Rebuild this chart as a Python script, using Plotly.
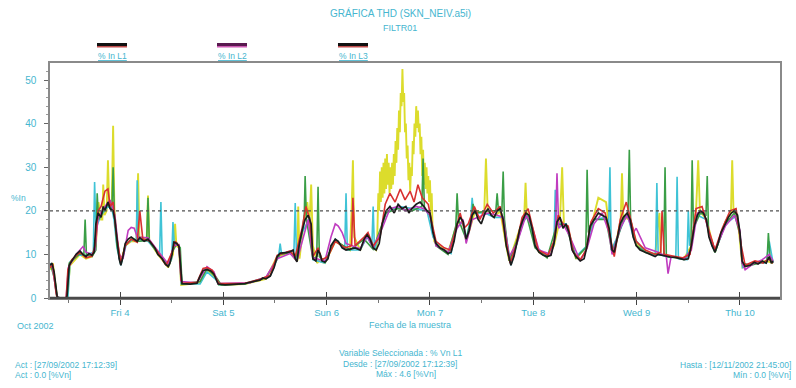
import numpy as np
import pandas as pd
import plotly.graph_objects as go

# Time base: hours counted from 2002-10-03 00:00
T0 = pd.Timestamp("2002-10-03")

# THD readings (%), each series as (hours, value) pairs
l1_black = [(7.7,7.5),(8.2,8.0),(8.7,6.0),(9.1,2.0),(9.4,0.3),(10.1,0),(11.5,0),(11.7,0.5),(12.2,7.5),(12.8,8.5),(13.8,10.0),(14.7,10.8),(15.4,10.0),(16.1,9.5),(16.8,10.2),(17.5,9.8),(18.0,10.5),(18.4,17.0),(18.9,19.5),(19.6,18.5),(20.1,21.0),(20.5,20.0),(21.2,22.0),(21.7,20.5),(22.4,20.0),(22.8,18.0),(23.3,13.0),(23.8,9.0),(24.2,7.5),(24.7,9.5),(25.2,12.5),(25.9,13.5),(26.6,14.0),(27.3,13.5),(28.0,13.0),(28.6,13.8),(29.6,13.0),(30.5,13.5),(31.4,12.5),(32.1,11.5),(32.8,10.0),(33.8,9.0),(34.5,7.8),(35.2,7.2),(35.6,8.0),(36.1,10.0),(36.5,12.8),(37.2,12.5),(37.7,11.8),(38.2,4.0),(38.4,3.3),(40.3,3.2),(41.9,3.4),(42.6,5.0),(43.3,6.3),(44.2,6.5),(45.1,6.2),(45.8,5.5),(46.3,4.5),(46.8,3.2),(48.4,3.0),(50.7,3.1),(53.0,3.3),(54.2,3.6),(55.4,3.8),(56.5,4.1),(57.2,4.6),(57.9,4.4),(58.9,5.0),(59.8,7.0),(60.5,9.5),(61.2,10.3),(62.6,10.4),(63.5,10.6),(64.2,11.0),(64.7,9.0),(65.1,8.3),(65.6,12.0),(66.3,15.5),(67.0,18.0),(67.7,19.0),(68.4,17.0),(68.8,9.0),(69.5,8.5),(70.0,11.0),(70.5,10.0),(70.9,8.5),(71.6,8.2),(72.3,9.0),(73.0,12.0),(74.0,13.5),(74.7,13.0),(75.6,11.5),(76.5,11.0),(77.4,11.2),(78.6,11.5),(79.8,11.0),(80.7,13.5),(81.4,14.5),(82.1,13.5),(82.8,11.5),(83.5,11.0),(84.2,12.5),(84.9,17.0),(85.8,20.0),(86.7,21.0),(87.7,19.5),(88.6,21.5),(89.5,20.5),(90.4,21.0),(91.1,19.5),(91.8,20.5),(92.8,21.5),(93.7,22.0),(94.6,21.0),(95.3,20.0),(96.0,19.5),(96.7,15.0),(97.4,12.5),(98.3,11.5),(99.3,11.0),(100.2,10.2),(100.9,10.5),(101.6,13.0),(102.3,17.0),(103.0,18.5),(103.7,17.5),(104.4,13.5),(105.1,15.5),(105.8,19.0),(106.5,20.0),(107.2,18.0),(107.9,17.0),(108.8,19.5),(109.5,20.5),(110.2,19.0),(110.9,18.5),(111.6,20.0),(112.3,20.5),(113.0,18.0),(113.7,12.0),(114.4,9.0),(114.8,7.5),(115.5,9.5),(116.2,13.0),(116.9,16.0),(117.6,18.0),(118.3,19.5),(119.0,19.0),(119.7,16.0),(120.4,12.0),(121.3,10.5),(122.3,9.8),(123.2,9.5),(124.1,9.8),(124.8,12.5),(125.5,17.5),(126.2,18.5),(126.9,16.0),(127.6,17.0),(128.3,15.0),(129.0,11.0),(129.9,9.5),(130.9,8.5),(131.8,9.0),(132.5,12.0),(133.2,16.5),(134.1,18.0),(135.1,19.5),(136.0,19.0),(136.9,18.5),(137.6,16.0),(138.3,11.0),(138.8,10.5),(139.5,14.0),(140.2,17.0),(140.9,18.5),(141.8,19.5),(142.5,18.0),(143.2,14.0),(143.9,12.0),(144.8,11.0),(146.0,10.5),(147.1,10.0),(148.3,9.5),(149.0,10.0),(149.9,9.8),(150.9,9.5),(151.8,9.4),(153.0,9.3),(154.1,9.0),(155.0,8.8),(156.0,9.0),(156.7,12.0),(157.4,16.5),(158.1,19.0),(158.8,20.0),(159.5,19.5),(160.2,18.0),(160.8,14.0),(161.5,12.0),(162.2,10.5),(162.9,12.5),(163.6,15.0),(164.6,17.0),(165.3,18.5),(166.0,19.5),(166.7,20.0),(167.4,19.0),(168.0,15.0),(168.5,8.5),(169.2,7.2),(170.4,7.5),(171.3,8.2),(172.2,7.8),(173.2,8.5),(174.1,8.0),(174.8,9.5),(175.3,8.0),(175.7,8.5)]

l1_red = [(7.7,7.0),(8.4,7.5),(9.1,1.5),(9.4,0),(11.5,0),(11.9,6.5),(12.8,8.8),(14.7,10.5),(16.1,9.2),(17.5,9.6),(18.2,12.0),(18.9,20.0),(19.6,21.0),(20.5,24.5),(21.2,25.0),(21.7,21.0),(22.4,22.0),(23.1,15.0),(24.2,8.0),(25.2,12.0),(26.6,13.5),(28.0,12.8),(28.6,20.0),(29.3,13.5),(31.0,13.0),(32.8,10.5),(34.7,7.5),(36.1,10.5),(36.8,13.0),(37.7,12.0),(38.2,4.0),(38.6,3.4),(41.9,3.6),(43.3,6.8),(44.2,7.0),(45.4,6.4),(46.3,4.5),(47.0,3.3),(53.0,3.4),(56.5,4.3),(58.9,5.2),(60.5,9.8),(63.5,10.8),(64.7,9.5),(66.3,16.0),(67.2,21.0),(68.1,18.0),(68.8,9.5),(70.0,11.5),(70.9,8.8),(72.3,9.5),(74.0,13.0),(76.3,11.5),(77.8,12.0),(78.1,23.0),(78.6,12.0),(80.7,14.0),(81.6,15.0),(82.8,12.0),(84.4,14.0),(85.6,21.5),(86.7,24.0),(87.9,22.0),(89.1,25.0),(90.2,22.5),(91.4,24.5),(92.3,22.0),(93.2,26.0),(94.2,23.0),(95.6,21.5),(96.5,17.0),(97.4,13.0),(99.3,11.5),(100.7,11.0),(101.8,15.0),(103.0,19.5),(103.9,16.0),(104.9,17.0),(106.3,21.0),(107.6,18.0),(109.3,21.5),(110.7,19.5),(112.3,21.0),(113.2,16.0),(114.6,8.0),(116.0,12.0),(117.4,18.5),(118.8,20.5),(119.7,17.0),(121.1,11.0),(123.4,9.8),(124.8,13.0),(125.8,19.0),(126.9,17.0),(128.1,16.5),(129.3,10.5),(130.9,8.8),(132.3,11.0),(133.4,17.5),(135.1,20.5),(136.7,19.5),(137.8,14.0),(138.8,9.5),(140.2,18.0),(141.6,22.0),(142.5,18.5),(143.9,13.0),(146.0,11.0),(148.3,10.0),(149.6,10.5),(149.9,20.0),(150.4,10.0),(152.3,9.6),(154.6,9.2),(156.4,10.0),(157.8,20.5),(159.2,21.0),(160.6,16.0),(162.2,11.0),(163.9,16.0),(165.7,20.0),(167.1,20.5),(168.3,12.0),(169.2,7.5),(171.5,8.5),(173.4,8.0),(174.6,9.0),(175.7,8.0)]

l2_magenta = [(8.2,7.8),(9.1,2.0),(9.4,0),(11.5,0),(12.0,7.0),(13.8,10.0),(15.4,11.8),(16.1,10.5),(17.5,10.0),(18.2,11.0),(18.9,18.5),(20.5,21.0),(21.7,22.5),(22.8,19.0),(23.8,10.0),(24.7,9.0),(25.9,15.5),(26.6,16.2),(27.3,16.0),(28.0,14.0),(30.5,13.8),(32.8,10.8),(35.2,7.8),(36.5,12.0),(37.7,12.2),(38.2,3.8),(41.9,3.5),(44.2,7.2),(45.8,6.0),(46.8,3.3),(54.2,3.5),(57.9,4.8),(60.5,9.0),(63.5,10.2),(65.1,8.5),(67.7,18.0),(68.8,9.2),(71.6,8.5),(73.0,14.0),(74.0,17.0),(74.7,16.5),(75.6,15.0),(76.5,12.5),(79.8,11.3),(81.4,14.2),(82.8,11.5),(84.9,16.0),(86.7,20.5),(88.6,21.0),(90.4,20.0),(92.8,21.0),(94.6,20.5),(96.0,19.0),(97.4,12.0),(100.2,10.5),(102.3,16.0),(103.7,18.0),(104.4,12.5),(105.8,18.0),(107.2,18.5),(109.5,19.5),(111.6,19.0),(113.0,18.5),(114.4,9.5),(116.2,12.5),(118.3,19.0),(119.7,16.5),(121.3,11.0),(124.1,10.0),(125.1,14.0),(125.5,28.6),(125.9,16.0),(126.9,17.0),(128.3,14.5),(130.9,8.5),(132.5,11.5),(134.1,17.0),(136.0,19.5),(137.6,15.0),(138.3,10.0),(140.2,16.0),(141.8,19.0),(143.2,15.0),(143.9,16.0),(146.0,11.5),(149.0,10.5),(150.9,9.5),(151.3,5.6),(152.0,9.5),(155.0,9.0),(156.7,11.0),(158.1,19.5),(159.5,20.0),(160.8,15.0),(162.2,11.0),(164.6,16.5),(166.7,19.0),(168.0,15.5),(168.5,8.0),(169.2,6.5),(171.3,8.0),(173.2,8.8),(174.8,10.0),(175.7,8.5)]

l2_green = [(8.0,7.2),(8.9,4.0),(9.4,0),(11.7,0),(12.2,8.0),(14.7,10.2),(15.6,9.8),(15.9,18.0),(16.2,10.0),(17.5,9.5),(18.4,11.0),(18.7,24.0),(19.0,18.0),(20.1,20.0),(21.2,21.5),(22.1,20.0),(22.4,30.0),(22.7,19.0),(23.3,12.0),(24.2,7.8),(25.2,12.0),(26.6,13.5),(28.0,13.0),(30.2,13.2),(30.5,23.0),(30.8,13.0),(32.8,10.2),(35.2,7.4),(36.1,10.5),(37.2,12.5),(38.0,11.5),(38.4,3.2),(42.6,3.8),(44.2,6.8),(46.3,4.8),(47.5,3.0),(53.0,3.2),(57.9,4.6),(61.2,10.0),(63.5,10.4),(64.7,9.0),(66.3,15.0),(66.8,19.0),(67.0,28.0),(67.3,18.0),(68.8,9.0),(69.7,9.5),(70.0,25.5),(70.3,9.5),(71.6,8.4),(74.0,13.2),(77.4,11.0),(80.7,13.5),(82.8,11.2),(85.8,19.5),(88.6,20.5),(91.8,20.0),(94.1,21.0),(94.4,32.0),(94.7,20.5),(96.0,19.0),(97.4,12.0),(100.2,10.0),(102.0,16.5),(102.3,24.0),(102.6,18.0),(104.4,13.5),(105.7,18.5),(106.0,21.6),(106.5,19.5),(109.5,20.0),(111.3,20.0),(111.6,24.0),(111.9,20.0),(112.7,20.0),(113.0,29.0),(113.3,18.0),(114.4,8.5),(116.9,15.0),(118.3,19.5),(120.4,11.5),(123.2,9.2),(125.5,17.0),(127.6,16.5),(129.9,9.2),(132.2,11.5),(132.5,29.4),(132.8,15.0),(134.1,18.0),(136.9,18.0),(138.3,10.5),(139.5,13.5),(140.9,18.0),(142.0,19.0),(142.3,34.0),(142.6,18.0),(143.9,12.0),(146.0,10.5),(149.0,10.0),(150.3,9.8),(150.6,30.0),(150.9,9.5),(153.0,9.3),(155.0,8.8),(156.6,11.0),(156.9,31.6),(157.2,16.0),(158.8,19.5),(160.1,19.0),(160.4,28.0),(160.7,15.0),(162.2,10.5),(164.6,17.0),(166.7,19.5),(168.0,14.5),(168.5,8.0),(170.4,7.5),(172.2,8.0),(174.3,8.5),(174.6,14.9),(175.0,9.0),(175.7,8.5)]

l3_cyan = [(7.7,8.0),(8.4,7.0),(9.0,2.5),(9.4,0),(11.9,0),(12.4,8.3),(14.0,9.8),(16.1,9.8),(17.8,10.5),(18.1,26.6),(18.4,16.0),(19.6,19.0),(21.2,21.0),(22.1,20.5),(22.6,18.0),(23.3,11.5),(24.2,7.5),(25.5,12.5),(27.3,13.5),(27.8,13.0),(28.0,27.0),(28.3,13.5),(30.5,13.0),(32.8,10.3),(33.2,10.0),(33.5,22.0),(33.8,9.5),(35.2,7.3),(36.0,9.0),(36.3,17.4),(36.6,12.5),(37.7,12.0),(38.2,3.3),(42.6,3.2),(44.2,6.0),(46.3,4.2),(47.0,3.0),(53.0,3.3),(58.9,5.0),(60.9,10.0),(61.2,12.5),(61.5,10.3),(64.4,10.8),(64.7,21.8),(65.0,9.0),(66.3,15.0),(68.1,18.5),(68.8,8.8),(71.6,8.0),(74.0,13.5),(76.2,11.2),(76.5,24.0),(76.8,11.0),(79.8,11.0),(81.4,14.0),(82.5,12.0),(82.8,21.0),(83.1,11.0),(85.8,19.5),(88.6,21.0),(91.8,20.5),(95.3,20.0),(96.7,14.0),(98.3,11.5),(100.9,10.2),(102.3,17.5),(103.7,17.0),(104.4,13.5),(105.5,18.5),(105.8,23.0),(106.1,19.5),(108.8,19.5),(110.9,18.5),(113.0,18.5),(114.8,7.5),(117.6,17.5),(119.0,19.0),(120.4,12.0),(123.2,9.5),(124.8,12.5),(125.1,24.8),(125.4,17.0),(127.6,17.0),(129.9,9.5),(132.5,12.0),(134.1,18.0),(136.9,18.5),(137.5,16.0),(137.8,30.0),(138.1,11.0),(139.5,14.0),(141.8,19.5),(143.2,14.0),(146.0,10.5),(148.4,9.8),(148.7,26.4),(149.0,10.0),(151.8,9.3),(153.1,9.3),(153.4,27.8),(153.7,9.0),(155.7,8.8),(156.0,20.0),(156.3,12.0),(158.1,19.0),(160.2,18.0),(161.5,12.0),(162.2,10.5),(164.6,17.0),(167.4,19.0),(168.3,12.0),(168.6,7.0),(171.3,8.2),(174.1,8.0),(174.8,13.0),(175.7,8.0)]

l3_yellow = [(7.7,6.5),(8.4,8.0),(9.0,3.0),(9.4,0),(11.7,0),(12.4,7.5),(14.7,10.0),(16.1,9.0),(17.5,9.5),(18.4,12.0),(19.0,22.0),(19.6,18.0),(19.9,18.0),(20.1,26.0),(20.4,19.0),(20.9,20.0),(21.2,31.6),(21.5,21.0),(22.1,22.0),(22.4,39.5),(22.7,20.0),(23.3,13.0),(24.2,8.0),(25.2,12.0),(26.6,13.0),(27.8,13.0),(28.2,28.6),(28.5,14.0),(30.2,13.5),(30.5,23.5),(30.8,13.0),(32.8,10.0),(35.2,7.0),(36.3,10.0),(36.8,17.0),(37.1,12.0),(37.7,11.5),(38.2,3.0),(42.6,3.5),(44.2,6.5),(46.3,4.5),(47.0,3.0),(53.0,3.2),(57.9,4.4),(60.5,9.5),(63.5,10.5),(64.7,9.0),(65.2,8.5),(65.4,21.0),(65.7,9.0),(66.5,16.0),(67.5,22.0),(68.0,17.0),(68.4,26.0),(68.8,12.0),(69.8,8.0),(70.2,8.5),(71.6,8.0),(74.0,13.0),(77.4,11.0),(77.8,20.0),(78.1,31.6),(78.4,14.0),(79.8,11.0),(81.4,14.5),(82.8,11.5),(83.5,11.0),
             (83.7,12.0),(84.0,24.0),(84.2,20.0),(84.4,29.0),(84.6,22.0),(84.8,30.0),(85.0,23.0),(85.2,31.0),(85.4,24.0),(85.6,32.0),(85.8,25.0),(86.0,33.0),(86.2,26.0),(86.4,31.0),(86.6,24.0),(86.8,30.0),(87.0,25.0),(87.2,31.0),(87.4,26.0),(87.6,33.0),(87.8,28.0),(88.0,36.0),(88.2,31.0),(88.4,39.0),(88.6,34.0),(88.8,43.0),(89.0,38.0),(89.2,47.0),(89.4,44.0),(89.6,52.5),(89.8,45.0),(90.0,47.0),(90.2,38.0),(90.4,40.0),(90.6,32.0),(90.8,35.0),(91.0,27.0),(91.2,31.0),(91.4,24.5),(91.6,30.0),(91.8,28.0),(92.0,36.0),(92.2,33.0),(92.4,40.0),(92.6,37.0),(92.8,44.0),(93.0,39.0),(93.2,43.0),(93.4,38.0),(93.6,40.0),(93.8,33.0),(94.0,37.0),(94.2,28.0),(94.4,34.0),(94.6,26.0),(94.8,31.0),(95.0,25.0),(95.2,30.0),(95.4,24.0),(95.6,28.0),(95.8,22.0),(96.0,27.0),(96.2,20.0),(96.4,24.0),(96.6,16.0),(97.0,13.0),
             (97.4,12.5),(100.2,10.5),(102.3,17.0),(103.7,17.5),(104.4,13.0),(106.5,20.0),(108.6,19.5),(109.0,32.0),(109.4,20.0),(110.9,18.5),(112.3,20.0),(113.7,12.0),(114.4,8.5),(116.9,16.0),(117.9,19.0),(118.2,26.4),(118.5,19.0),(119.7,16.0),(121.3,10.5),(123.2,9.5),(124.8,12.0),(126.2,18.0),(126.7,30.0),(127.1,17.0),(128.3,15.0),(129.9,9.0),(132.5,12.0),(134.1,19.0),(135.1,23.0),(136.9,22.0),(137.6,16.0),(138.3,10.5),(139.5,14.0),(140.3,18.0),(140.6,28.6),(140.9,18.5),(142.5,18.0),(143.9,12.5),(146.0,10.5),(148.3,9.8),(149.0,17.0),(149.3,19.5),(149.6,10.0),(151.8,9.5),(155.0,9.0),(156.7,12.0),(157.8,20.0),(158.3,31.6),(158.7,20.0),(160.2,18.0),(162.2,10.5),(164.6,17.5),(165.9,19.5),(166.2,31.6),(166.5,20.0),(167.4,19.0),(168.3,10.0),(168.6,7.0),(171.3,8.0),(174.1,8.5),(175.7,8.0)]

# Drawing order: back to front
series = [
    (l3_yellow, "#dcdc2c", 1.9),
    (l3_cyan, "#3fc3d6", 1.6),
    (l2_green, "#3a9e46", 1.6),
    (l2_magenta, "#c03cc0", 1.6),
    (l1_red, "#d83030", 1.6),
    (l1_black, "#1c1c1c", 1.7),
]

LIMIT = 20
Y_RANGE = [0, 53.9]
X_RANGE_H = [7.74, 177.3]

TXT = "#46b6cf"
FONT = "Liberation Sans, Arial, sans-serif"


def to_time(hours):
    return T0 + pd.to_timedelta(np.asarray(hours, dtype=float), unit="h")


fig = go.Figure()
for pts, color, width in series:
    h, v = zip(*pts)
    fig.add_trace(go.Scatter(x=to_time(h), y=list(v), mode="lines",
                             line=dict(color=color, width=width),
                             showlegend=False, hoverinfo="skip"))

x_range = list(to_time(X_RANGE_H))

# Reference limit line
fig.add_trace(go.Scatter(x=x_range, y=[LIMIT, LIMIT], mode="lines",
                         line=dict(color="#505050", width=1.2, dash="dot"),
                         showlegend=False, hoverinfo="skip"))

fig.update_layout(
    width=796, height=388,
    margin=dict(l=50, r=16, t=63, b=90),
    paper_bgcolor="white", plot_bgcolor="white",
    font=dict(family=FONT, color=TXT, size=9),
    xaxis=dict(
        type="date", range=x_range,
        tickformat="%a %-d", dtick=86400000, tick0="2002-10-04",
        ticks="outside", ticklen=5, tickcolor="#444", tickwidth=1,
        minor=dict(dtick=43200000, ticklen=3, tickcolor="#777", ticks="outside"),
        showgrid=False, zeroline=False,
        showline=True, linecolor="#8a8a8a", linewidth=1.5, mirror=True,
        tickfont=dict(size=9.5, color=TXT, family=FONT),
    ),
    xaxis2=dict(
        type="date", range=x_range, overlaying="x", anchor="y",
        dtick=86400000, tick0="2002-10-04", ticks="inside", ticklen=6,
        tickcolor="#444", showticklabels=False, showgrid=False,
        zeroline=False, showline=False,
    ),
    yaxis=dict(
        range=Y_RANGE, tickvals=[0, 10, 20, 30, 40, 50],
        ticks="outside", ticklen=4, tickcolor="#666",
        ticklabelstandoff=6,
        minor=dict(dtick=2, ticklen=2, tickcolor="#999", ticks="outside"),
        showgrid=False, zeroline=False,
        showline=True, linecolor="#8a8a8a", linewidth=1.5, mirror=True,
        tickfont=dict(size=10, color=TXT, family=FONT),
    ),
)

# empty trace on the overlay axis so its day ticks render
fig.add_trace(go.Scatter(x=x_range, y=[None, None], xaxis="x2", showlegend=False,
                         hoverinfo="skip"))

# Heavier bottom axis rule
fig.add_shape(type="line", xref="paper", yref="paper", x0=0, x1=1, y0=0, y1=0,
              line=dict(color="#4a4a4a", width=2.5))


def px_x(px):
    return (px - 50) / 730


def px_y(py):
    return (298 - py) / 235


def note(text, px, py, size=9, xanchor="center", color=TXT):
    fig.add_annotation(text=text, x=px_x(px), y=px_y(py), xref="paper", yref="paper",
                       showarrow=False, xanchor=xanchor, yanchor="middle",
                       font=dict(size=size, color=color, family=FONT))


note("GRÁFICA THD (SKN_NEIV.a5i)", 400, 13, size=10)
note("FILTR01", 400, 28, size=9)

# Legend keys
legend_keys = [("% In L1", 112, "#111111", "#b02020"),
               ("% In L2", 232, "#5a1a50", "#c030a0"),
               ("% In L3", 353, "#111111", "#b02020")]
for label, cx, top, under in legend_keys:
    fig.add_shape(type="line", xref="paper", yref="paper",
                  x0=px_x(cx - 15), x1=px_x(cx + 15), y0=px_y(44.5), y1=px_y(44.5),
                  line=dict(color=top, width=3))
    fig.add_shape(type="line", xref="paper", yref="paper",
                  x0=px_x(cx - 15), x1=px_x(cx + 15), y0=px_y(46.8), y1=px_y(46.8),
                  line=dict(color=under, width=1.2))
    note("<u>" + label + "</u>", cx, 56, size=8.5)

note("%In", 18, 198, size=8.5)
note("Oct 2002", 35, 326, size=9)
note("Fecha de la muestra", 410, 325, size=9)

note("Act : [27/09/2002 17:12:39]", 13, 365, size=8.5, xanchor="left")
note("Act : 0.0 [%Vn]", 13, 375, size=8.5, xanchor="left")
note("Variable Seleccionada : % Vn L1", 400, 353, size=8.5)
note("Desde : [27/09/2002 17:12:39]", 400, 363.5, size=8.5)
note("Máx : 4.6 [%Vn]", 406, 374, size=8.5)
note("Hasta : [12/11/2002 21:45:00]", 793, 365, size=8.5, xanchor="right")
note("Mín : 0.0 [%Vn]", 793, 375, size=8.5, xanchor="right")

fig.write_html("out.html")
